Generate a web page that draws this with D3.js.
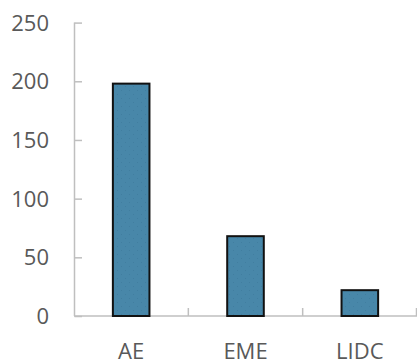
<!DOCTYPE html>
<html>
<head>
<meta charset="utf-8">
<script src="https://cdn.jsdelivr.net/npm/d3@7"></script>
<style>
  html, body { margin: 0; padding: 0; background: #fff; }
  svg { display: block; }
</style>
</head>
<body>
<svg id="chart" width="417" height="360"></svg>
<script>
// Category names and their values
const categories = ["AE", "EME", "LIDC"];
const values = [198, 68, 22];
const yTicks = [0, 50, 100, 150, 200, 250];

const W = 417, H = 360;
const margin = { left: 74, right: 0, top: 22.6, bottom: 44 };

const svg = d3.select("#chart");

const x = d3.scaleBand()
  .domain(categories)
  .range([margin.left, W - margin.right])
  .paddingInner(0)
  .paddingOuter(0);

const y = d3.scaleLinear()
  .domain([0, 250])
  .range([H - margin.bottom, margin.top]);

const axisColor = "#bfbfbf";
const textColor = "#595959";
const font = "'Open Sans', 'Noto Sans', sans-serif";

// Subtle dotted texture for bars
const defs = svg.append("defs");
const pat = defs.append("pattern")
  .attr("id", "barFill")
  .attr("width", 8).attr("height", 8)
  .attr("patternUnits", "userSpaceOnUse");
pat.append("rect").attr("width", 8).attr("height", 8).attr("fill", "#4887a9");
pat.append("rect").attr("x", 1).attr("y", 2).attr("width", 1).attr("height", 1).attr("fill", "#417ea0");
pat.append("rect").attr("x", 5).attr("y", 6).attr("width", 1).attr("height", 1).attr("fill", "#417ea0");

// Y axis: line on the left, ticks pointing into the plot
const yAxis = d3.axisRight(y).tickValues(yTicks).tickSize(8).tickFormat("");
const yG = svg.append("g")
  .attr("transform", `translate(${margin.left},0)`)
  .call(yAxis);
yG.select(".domain").attr("stroke", axisColor).attr("stroke-width", 1.5)
  .attr("d", `M0.5,${y(250)}V${y(0)}`);
yG.selectAll(".tick line").attr("stroke", axisColor).attr("stroke-width", 1.5)
  .attr("x1", 0.5);

// Y tick labels
svg.append("g").selectAll("text")
  .data(yTicks)
  .join("text")
  .attr("x", 49)
  .attr("y", d => y(d))
  .attr("dy", "0.36em")
  .attr("text-anchor", "end")
  .attr("font-family", font)
  .attr("font-size", 22)
  .attr("fill", textColor)
  .text(d => d);

// X axis baseline with ticks at category boundaries
const base = y(0);
svg.append("line")
  .attr("x1", margin.left).attr("x2", W)
  .attr("y1", base).attr("y2", base)
  .attr("stroke", axisColor).attr("stroke-width", 1.5);
const bounds = categories.slice(1).map(c => x(c));
bounds.push(W - 0.5);
svg.append("g").selectAll("line")
  .data(bounds)
  .join("line")
  .attr("x1", d => d).attr("x2", d => d)
  .attr("y1", base).attr("y2", base - 8)
  .attr("stroke", axisColor).attr("stroke-width", 1.5);

// Bars
const barW = x.bandwidth() * 0.32;
svg.append("g").selectAll("rect")
  .data(categories.map((c, i) => ({ c, v: values[i] })))
  .join("rect")
  .attr("x", d => x(d.c) + x.bandwidth() / 2 - barW / 2)
  .attr("y", d => y(d.v))
  .attr("width", barW)
  .attr("height", d => y(0) - y(d.v))
  .attr("fill", "url(#barFill)")
  .attr("stroke", "#111")
  .attr("stroke-width", 2);

// X category labels
svg.append("g").selectAll("text")
  .data(categories)
  .join("text")
  .attr("x", d => x(d) + x.bandwidth() / 2)
  .attr("y", 359)
  .attr("text-anchor", "middle")
  .attr("font-family", font)
  .attr("font-size", 22)
  .attr("fill", textColor)
  .text(d => d);
</script>
</body>
</html>
